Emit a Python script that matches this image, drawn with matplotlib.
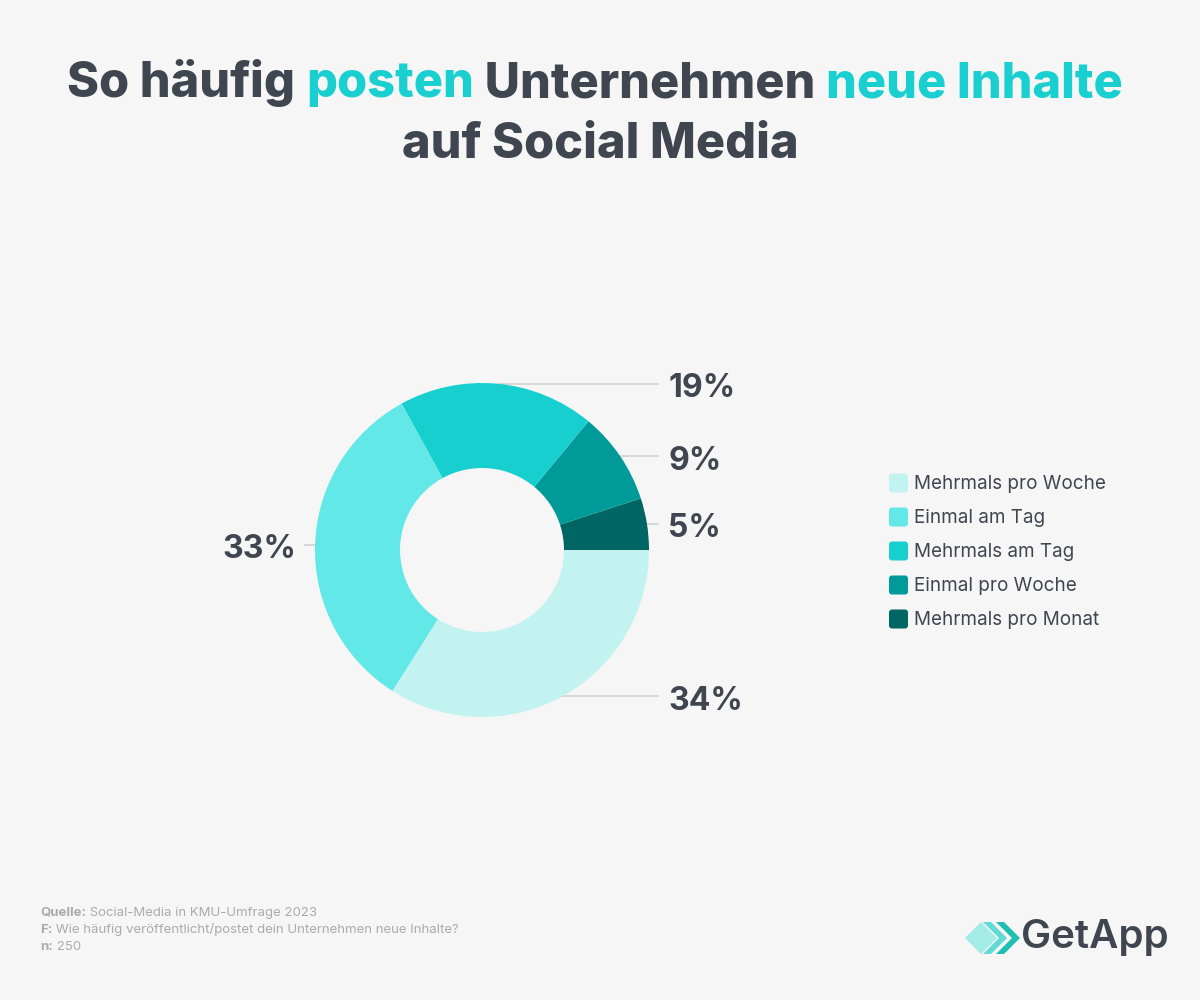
import numpy as np
import matplotlib
matplotlib.use("Agg")
import matplotlib.pyplot as plt
from matplotlib.patches import Polygon, FancyBboxPatch

# ---- data ----
categories = ["Mehrmals pro Woche", "Einmal am Tag", "Mehrmals am Tag",
              "Einmal pro Woche", "Mehrmals pro Monat"]
values = [34, 33, 19, 9, 5]
colors = ["#C2F3F1", "#62E8E6", "#18CFD0", "#009A99", "#006663"]
title_parts = [("So häufig ", "dark"), ("posten", "accent"), (" Unternehmen ", "dark"),
               ("neue Inhalte", "accent")]
title_line2 = "auf Social Media"
footer = [("Quelle:", " Social-Media in KMU-Umfrage 2023"),
          ("F:", " Wie häufig veröffentlicht/postet dein Unternehmen neue Inhalte?"),
          ("n:", " 250")]

DARK = "#3F4650"
ACCENT = "#1ACFD0"
BG = "#F6F6F6"
FONT = "Inter"

W, H = 1200, 1000
fig = plt.figure(figsize=(12, 10), dpi=100, facecolor=BG)
ax = fig.add_axes([0, 0, 1, 1])
ax.set_facecolor(BG)

# ---- donut ----
cx, cy, R, ring = 482, 450, 167, 85
pie_vals = values[::-1]
pie_cols = colors[::-1]
wedges, _ = ax.pie(pie_vals, colors=pie_cols, startangle=0, counterclock=True,
                   center=(cx, cy), radius=R, frame=True,
                   wedgeprops=dict(width=ring, linewidth=0))
ax.set_xlim(0, W)
ax.set_ylim(0, H)
ax.set_aspect("equal")
ax.axis("off")

# labels with leader lines
total = sum(pie_vals)
start = 0.0
for v in pie_vals:
    ang = np.deg2rad(start + 360 * v / total / 2)
    start += 360 * v / total
    px, py = cx + R * np.cos(ang), cy + R * np.sin(ang)
    if np.cos(ang) >= 0:
        ax.plot([px, 658], [py, py], color="#D3D3D3", lw=1.2, zorder=0)
        ax.text(668, py - 5, f"{v}%", ha="left", va="center", fontsize=23,
                fontweight="bold", color=DARK, family=FONT)
    else:
        ax.plot([305, px], [py, py], color="#D3D3D3", lw=1.2, zorder=0)
        ax.text(296, py - 5, f"{v}%", ha="right", va="center", fontsize=23,
                fontweight="bold", color=DARK, family=FONT)

# ---- legend ----
for i, (cat, col) in enumerate(zip(categories, colors)):
    y = H - (483 + 34 * i)
    ax.add_patch(FancyBboxPatch((889, y - 9.5), 19, 19,
                                boxstyle="round,pad=0,rounding_size=3",
                                fc=col, ec="none"))
    ax.text(914, y - 1, cat, ha="left", va="center", fontsize=13.6,
            color=DARK, family=FONT)

# ---- title ----
fig.canvas.draw()
renderer = fig.canvas.get_renderer()
tsize = 35
texts = []
for s, kind in title_parts:
    t = fig.text(0, 0, s, fontsize=tsize, fontweight="heavy", family=FONT,
                 color=ACCENT if kind == "accent" else DARK, va="baseline")
    texts.append(t)
widths = [t.get_window_extent(renderer).width for t in texts]
total_w = sum(widths)
xx = (W - total_w) / 2 - 5
for t, w in zip(texts, widths):
    t.set_position((xx / W, 1 - 97 / H))
    xx += w
fig.text(0.5, 1 - 158 / H, title_line2, fontsize=tsize, fontweight="heavy",
         family=FONT, color=DARK, ha="center", va="baseline")

# ---- footer ----
for i, (b, rest) in enumerate(footer):
    y = 1 - (913 + 17 * i) / H
    tb = fig.text(40 / W, y, b, fontsize=9.5, fontweight="bold", color="#ABABAB",
                  family=FONT, va="center")
    bw = tb.get_window_extent(renderer).width
    fig.text((40 + bw) / W, y, rest, fontsize=9.5, color="#ABABAB",
             family=FONT, va="center")

# ---- logo ----
ly = H - 938

def diamond(x, y, h, col, alpha=1.0):
    pts = [(x - h, y), (x, y + h), (x + h, y), (x, y - h)]
    ax.add_patch(Polygon(pts, closed=True, fc=col, ec="none", alpha=alpha))

def chevron(x0, y, h, t, col, alpha=1.0):
    pts = [(x0, y + h), (x0 + t, y + h), (x0 + t + h, y), (x0 + t, y - h),
           (x0, y - h), (x0 + h, y)]
    ax.add_patch(Polygon(pts, closed=True, fc=col, ec="none", alpha=alpha))

diamond(981, ly, 16, "#A4ECE6")
chevron(983, ly, 16, 8, "#52D8D1", 0.9)
chevron(996, ly, 16, 8, "#1FBFB4")
fig.text(1021 / W, ly / H, "GetApp", fontsize=29, fontweight="semibold",
         color=DARK, family=FONT, va="center", ha="left")

fig.savefig("out.png", dpi=100, facecolor=BG)
